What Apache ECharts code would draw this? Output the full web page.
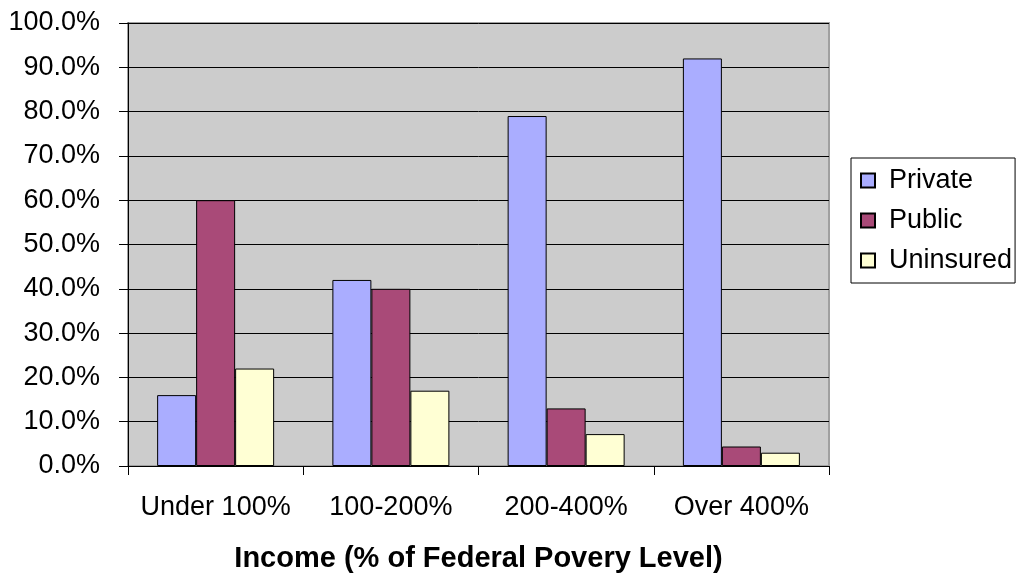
<!DOCTYPE html>
<html>
<head>
<meta charset="utf-8">
<script src="https://cdn.jsdelivr.net/npm/echarts@6/dist/echarts.min.js"></script>
<style>
  html, body { margin: 0; padding: 0; background: #fff; }
  #chart { width: 1018px; height: 574px; }
</style>
</head>
<body>
<div id="chart"></div>
<script>
// Insurance coverage by income band (% of federal poverty level)
const categories = ['Under 100%', '100-200%', '200-400%', 'Over 400%'];
const privateShare = [16, 42, 79, 92];
const publicShare = [60, 40, 13, 4.4];
const uninsuredShare = [22, 17, 7.2, 3];
const yTicks = { min: 0, max: 100, interval: 10 };

const FONT = "'Liberation Sans', Arial, sans-serif";

const chart = echarts.init(document.getElementById('chart'), null, { renderer: 'canvas' });

function barSeries(name, data, color) {
  return {
    name: name,
    type: 'bar',
    data: data,
    barWidth: 39,
    barGap: '0%',
    itemStyle: { color: color, borderColor: '#000', borderWidth: 1 },
    emphasis: { disabled: true }
  };
}

chart.setOption({
  animation: false,
  textStyle: { fontFamily: FONT },
  grid: {
    left: 128, top: 23, right: 189, bottom: 108,
    outerBoundsMode: 'none',
    containLabel: false,
    show: true,
    backgroundColor: '#CCCCCC',
    borderColor: '#A0A0A0',
    borderWidth: 2
  },
  legend: {
    orient: 'vertical',
    left: 851, top: 158,
    padding: [9, 3, 9, 9],
    borderColor: '#000', borderWidth: 1,
    itemWidth: 14, itemHeight: 14, itemGap: 13,
    icon: 'rect',
    textStyle: { fontSize: 27, lineHeight: 27, color: '#000', fontFamily: FONT, padding: [0, 0, 0, 9] },
    data: ['Private', 'Public', 'Uninsured']
  },
  xAxis: {
    type: 'category',
    data: categories,
    name: 'Income (% of Federal Povery Level)',
    nameLocation: 'middle',
    nameGap: 78,
    nameTextStyle: { fontSize: 29, fontWeight: 'bold', color: '#000', fontFamily: FONT },
    axisLine: { lineStyle: { color: '#000', width: 1 } },
    axisTick: { show: true, length: 9, lineStyle: { color: '#000' } },
    axisLabel: { interval: 0, fontSize: 27, color: '#000', margin: 28, fontFamily: FONT },
    splitLine: { show: false }
  },
  yAxis: {
    type: 'value',
    min: yTicks.min, max: yTicks.max, interval: yTicks.interval,
    axisLine: { show: true, lineStyle: { color: '#000', width: 1 } },
    axisTick: { show: true, length: 9, lineStyle: { color: '#000' } },
    axisLabel: {
      fontSize: 27, color: '#000', margin: 28, fontFamily: FONT,
      formatter: v => v.toFixed(1) + '%'
    },
    splitLine: { show: true, lineStyle: { color: '#000', width: 1 } }
  },
  series: [
    barSeries('Private', privateShare, '#AAADFF'),
    barSeries('Public', publicShare, '#A94A78'),
    barSeries('Uninsured', uninsuredShare, '#FFFFD4')
  ]
});
</script>
</body>
</html>
